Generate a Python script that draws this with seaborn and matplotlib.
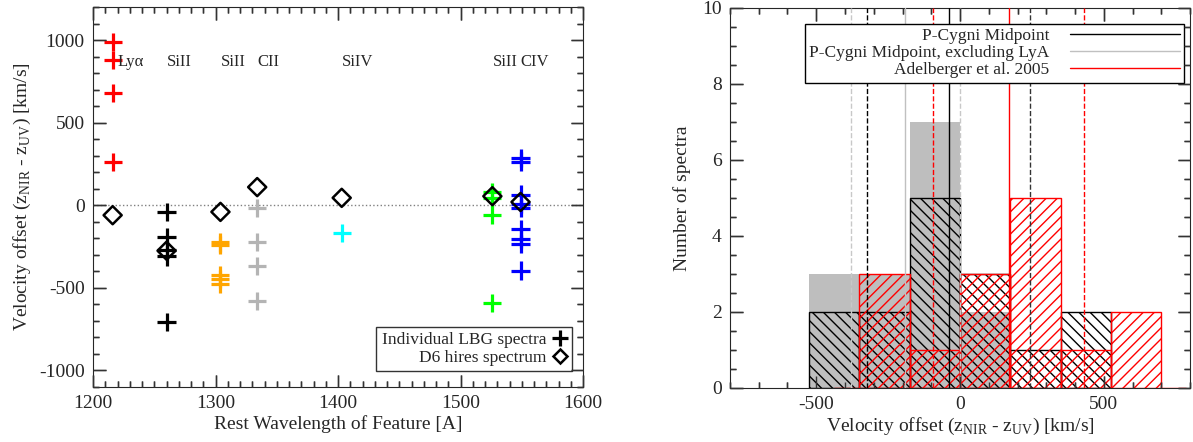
import numpy as np
import pandas as pd
import matplotlib
matplotlib.use('Agg')
import matplotlib.pyplot as plt
from matplotlib.lines import Line2D
from matplotlib.ticker import MultipleLocator
import seaborn as sns

# --- left panel: velocity offset per UV feature ---
feature_names = ['Lyα', 'SiII', 'SiII', 'CII', 'SiIV', 'SiII', 'CIV']
feature_wave = [1216, 1260, 1304, 1334, 1403, 1526, 1549]
feature_colors = ['#ff0000', '#000000', '#ffa500', '#b4b4b4', '#00ffff', '#00ff00', '#0000ff']

lya_vel = [990, 880, 680, 260]
si1260_vel = [-40, -195, -270, -310, -705]
si1304_vel = [-225, -240, -420, -445, -475]
c1334_vel = [-15, -220, -370, -580]
si1403_vel = [-170]
si1526_vel = [80, 45, -60, -590]
c1549_vel = [285, 265, 65, 10, -15, -145, -205, -235, -395]

hires_vel = [-60, -275, -40, 110, 45, 55, 20]

# --- right panel: histograms of mean offsets ---
bin_edges = [-525, -350, -175, 0, 175, 350, 525]
counts_all = [2, 2, 5, 3, 1, 2]
counts_nolya = [3, 3, 7, 2, 0, 0]
adel_edges = [-437.5, -350, -175, 0, 175, 350, 525, 700, 787.5]
counts_adel = [0, 3, 1, 3, 5, 1, 2, 0]

mid_mean, mid_std = -40, 285
nolya_mean, nolya_std = -190, 190
adel_mean, adel_std = 169, 262

sns.set_style('ticks')
plt.rcParams['font.family'] = ['Liberation Serif', 'DejaVu Serif']
plt.rcParams['mathtext.fontset'] = 'custom'
plt.rcParams['mathtext.rm'] = 'Liberation Serif'
plt.rcParams['font.size'] = 14
plt.rcParams['axes.unicode_minus'] = False

fig = plt.figure(figsize=(11.93, 4.42), dpi=100)
rect1 = [0.078, 0.1244, 0.4107, 0.8597]
rect2 = [0.6119, 0.1222, 0.3856, 0.86]
ax1 = fig.add_axes(rect1)
ax2 = fig.add_axes(rect2)

# long table for the individual spectra
vel_lists = [lya_vel, si1260_vel, si1304_vel, c1334_vel, si1403_vel, si1526_vel, c1549_vel]
rows = []
for i, vals in enumerate(vel_lists):
    for v in vals:
        rows.append({'wave': feature_wave[i], 'vel': v, 'feature': i})
df = pd.DataFrame(rows)
pal = {i: c for i, c in enumerate(feature_colors)}

ax1.axhline(0, color='#808080', lw=1, ls=':', zorder=1)
sns.scatterplot(data=df, x='wave', y='vel', hue='feature', palette=pal,
                marker='+', s=170, linewidth=2.3, legend=False, ax=ax1, zorder=3)
sns.scatterplot(x=feature_wave, y=hires_vel, marker='D', s=85,
                facecolor='none', edgecolor='black', linewidth=1.8, ax=ax1, zorder=4)

for name, w in zip(feature_names, feature_wave):
    xx = w + 4 if name == 'Lyα' else w
    ax1.text(xx, 870, name, fontsize=12, ha='left', va='center')

ax1.set_xlim(1200, 1600)
ax1.set_ylim(-1100, 1200)
ax1.set_xlabel('Rest Wavelength of Feature [A]', fontsize=14, labelpad=2)
ax1.set_ylabel(r'Velocity offset (z$_{\mathrm{NIR}}$ - z$_{\mathrm{UV}}$) [km/s]', fontsize=14, labelpad=4)

h_plus = Line2D([], [], ls='none', marker='+', color='black', ms=11, mew=2.3)
h_diam = Line2D([], [], ls='none', marker='D', mfc='none', mec='black', ms=7, mew=1.8)
leg1 = ax1.legend([h_plus, h_diam], ['Individual LBG spectra', 'D6 hires spectrum'],
                  loc='lower right', bbox_to_anchor=(0.978, 0.042), markerfirst=False,
                  fontsize=12.5, frameon=True, fancybox=False, handlelength=0.8,
                  handletextpad=0.4, labelspacing=0.1, borderpad=0.3, borderaxespad=0)
leg1.get_frame().set_edgecolor('black')
leg1.get_frame().set_linewidth(1)

# right panel histograms
def centers(edges):
    e = np.asarray(edges, dtype=float)
    return (e[:-1] + e[1:]) / 2

sns.histplot(x=centers(bin_edges), weights=counts_nolya, bins=bin_edges, ax=ax2,
             element='bars', fill=True, color='#bebebe', alpha=1, linewidth=0, zorder=1)
sns.histplot(x=centers(bin_edges), weights=counts_all, bins=bin_edges, ax=ax2,
             element='bars', fill=False, color='black', hatch='\\\\\\', linewidth=1, zorder=2)
sns.histplot(x=centers(adel_edges), weights=counts_adel, bins=adel_edges, ax=ax2,
             element='bars', fill=False, color='red', hatch='///', linewidth=1, zorder=3)

ax2.axvline(mid_mean, color='black', lw=1, zorder=4)
ax2.axvline(mid_mean - mid_std, color='black', lw=1, ls='--', zorder=4)
ax2.axvline(mid_mean + mid_std, color='#333333', lw=1, ls='--', zorder=4)
ax2.axvline(nolya_mean, color='#c0c0c0', lw=1, zorder=4)
ax2.axvline(nolya_mean - nolya_std, color='#c8c8c8', lw=1, ls='--', zorder=4)
ax2.axvline(nolya_mean + nolya_std, color='#c8c8c8', lw=1, ls='--', zorder=4)
ax2.axvline(adel_mean, color='red', lw=1, zorder=4)
ax2.axvline(adel_mean - adel_std, color='red', lw=1, ls='--', zorder=4)
ax2.axvline(adel_mean + adel_std, color='red', lw=1, ls='--', zorder=4)

ax2.set_xlim(-800, 800)
ax2.set_ylim(0, 10)
ax2.set_xlabel(r'Velocity offset (z$_{\mathrm{NIR}}$ - z$_{\mathrm{UV}}$) [km/s]', fontsize=14, labelpad=2)
ax2.set_ylabel('Number of spectra', fontsize=14, labelpad=8)

leg_h = [Line2D([], [], color='black', lw=1),
         Line2D([], [], color='#c0c0c0', lw=1),
         Line2D([], [], color='red', lw=1)]
leg2 = ax2.legend(leg_h, ['P-Cygni Midpoint', 'P-Cygni Midpoint, excluding LyA',
                          'Adelberger et al. 2005'],
                  loc='upper right', bbox_to_anchor=(0.987, 0.958), markerfirst=False,
                  fontsize=12.5, frameon=True, fancybox=False, handlelength=6.3,
                  handletextpad=1.2, labelspacing=0.05, borderpad=0.25, borderaxespad=0,
                  framealpha=1)
leg2.get_frame().set_edgecolor('black')
leg2.get_frame().set_linewidth(1)

# (major, minor) tick spacing for each panel
tick_steps = {0: ((100, 10), (500, 100)), 1: ((500, 100), (2, 0.5))}

for k, (ax, rect) in enumerate(((ax1, rect1), (ax2, rect2))):
    (xmaj, xmin), (ymaj, ymin) = tick_steps[k]
    ax.xaxis.set_major_locator(MultipleLocator(xmaj))
    ax.xaxis.set_minor_locator(MultipleLocator(xmin))
    ax.yaxis.set_major_locator(MultipleLocator(ymaj))
    ax.yaxis.set_minor_locator(MultipleLocator(ymin))
    ax.tick_params(which='both', direction='in', top=True, right=True, labelsize=14, color='#333333')
    ax.tick_params(which='major', length=9, width=1, pad=6)
    ax.tick_params(which='minor', length=4.5, width=1)

    # bare overlay axes that only carries the inward tick marks
    ov = fig.add_axes(rect)
    ov.set_xlim(ax.get_xlim())
    ov.set_ylim(ax.get_ylim())
    ov.xaxis.set_major_locator(MultipleLocator(xmaj))
    ov.xaxis.set_minor_locator(MultipleLocator(xmin))
    ov.yaxis.set_major_locator(MultipleLocator(ymaj))
    ov.yaxis.set_minor_locator(MultipleLocator(ymin))
    ov.patch.set_visible(False)
    for sp in ov.spines.values():
        sp.set_visible(False)
    ov.tick_params(which='both', direction='in', bottom=True, top=True, left=True, right=True,
                   labelbottom=False, labelleft=False, labeltop=False, labelright=False,
                   color='#333333')
    ov.tick_params(which='major', length=9, width=1)
    ov.tick_params(which='minor', length=4.5, width=1)
    ov.set_zorder(ax.get_zorder() + 1)

fig.savefig('out.png', dpi=100)
